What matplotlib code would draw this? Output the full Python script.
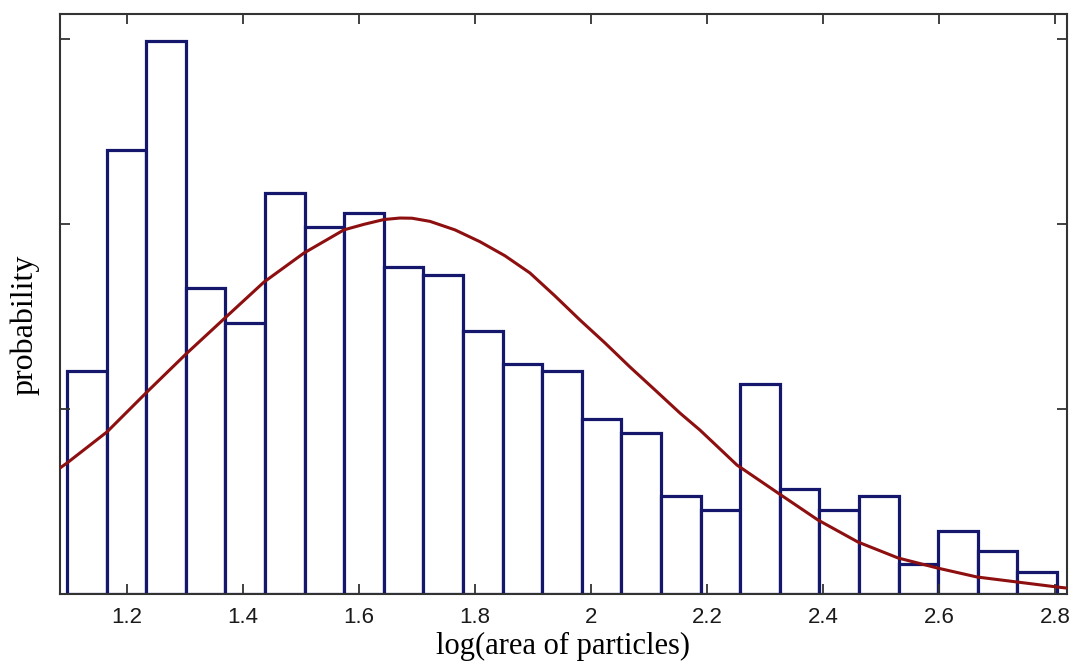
import matplotlib
matplotlib.use("Agg")
import matplotlib.pyplot as plt
import numpy as np

# histogram of log(area), 25 equal bins
bin_lo = 1.0966
bin_hi = 2.8034
bar_heights = [1.205, 2.40, 2.99, 1.654, 1.465, 2.168, 1.984, 2.059, 1.768, 1.724,
               1.422, 1.243, 1.205, 0.946, 0.870, 0.530, 0.454, 1.135, 0.568, 0.454,
               0.530, 0.162, 0.341, 0.232, 0.119]

# fitted curve
curve_x = [1.0845, 1.0966, 1.1655, 1.2345, 1.3017, 1.3707, 1.4362, 1.5052, 1.5741,
           1.6086, 1.6431, 1.6707, 1.6914, 1.7224, 1.7655, 1.8086, 1.8517, 1.8948,
           1.9379, 1.981, 2.0241, 2.0672, 2.1103, 2.1534, 2.1879, 2.2224,
           2.2517, 2.3224, 2.3914, 2.4603, 2.5293, 2.5966, 2.6655, 2.7345, 2.8034, 2.8207]
curve_y = [0.681, 0.708, 0.876, 1.092, 1.297, 1.497, 1.686, 1.843, 1.968,
           1.998, 2.024, 2.032, 2.031, 2.014, 1.968, 1.904, 1.828, 1.735,
           1.611, 1.481, 1.357, 1.227, 1.103, 0.978, 0.886, 0.784,
           0.697, 0.546, 0.400, 0.281, 0.195, 0.141, 0.092, 0.065, 0.038, 0.032]

x_ticks = [1.2, 1.4, 1.6, 1.8, 2.0, 2.2, 2.4, 2.6, 2.8]
x_tick_labels = ['1.2', '1.4', '1.6', '1.8', '2', '2.2', '2.4', '2.6', '2.8']
y_ticks = [0, 1, 2, 3]

fig = plt.figure(figsize=(10.77, 6.64), dpi=100)
ax = fig.add_axes([0.0557, 0.1054, 0.935, 0.8736])

edges = np.linspace(bin_lo, bin_hi, len(bar_heights) + 1)
widths = np.diff(edges)
ax.bar(edges[:-1], bar_heights, width=widths, align='edge',
       facecolor='white', edgecolor='#14176b', linewidth=2.3)

ax.plot(curve_x, curve_y, color='#8e0f0f', linewidth=2.2, zorder=3,
        solid_joinstyle='round')

ax.set_xlim(1.0845, 2.8207)
ax.set_ylim(0, 3.135)

ax.set_xticks(x_ticks)
ax.set_xticklabels(x_tick_labels, fontfamily='Liberation Sans', fontsize=16, color='#1a1a1a')
ax.set_yticks(y_ticks)
ax.set_yticklabels([])
ax.tick_params(direction='in', length=7, width=1.3, color='#333333',
               top=True, right=True, pad=9)

for s in ax.spines.values():
    s.set_linewidth(1.5)
    s.set_color('#333333')

ax.set_xlabel('log(area of particles)', fontfamily='Liberation Serif', fontsize=22, labelpad=3)
ax.set_ylabel('probability', fontfamily='Liberation Serif', fontsize=23)
ax.yaxis.set_label_coords(-0.02, 0.464)

fig.savefig('out.png', dpi=100)
